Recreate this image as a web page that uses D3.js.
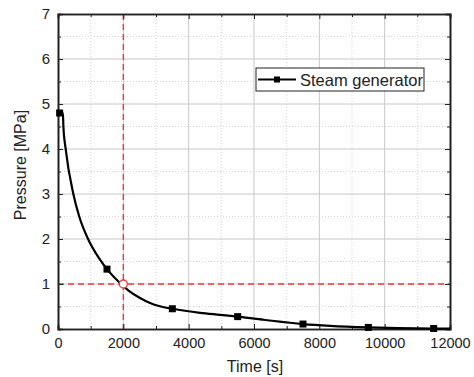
<!DOCTYPE html>
<html>
<head>
<meta charset="utf-8">
<script src="https://cdn.jsdelivr.net/npm/d3@7"></script>
<style>
  body { margin: 0; background: #fff; }
  text { font-family: "Liberation Sans", Arial, sans-serif; fill: #222; }
</style>
</head>
<body>
<div id="chart"></div>
<script>
// curve of the steam generator pressure
const curveTime = [0, 150, 165, 235, 470, 650, 920, 1250, 1500, 1930, 2150, 2510, 2800, 3120, 3500, 4350, 4960, 5500, 6300, 7500, 8330, 9500, 10400, 11500, 12000];
const curvePressure = [4.8, 4.8, 4.5, 4.0, 3.0, 2.5, 2.0, 1.58, 1.33, 1.0, 0.86, 0.69, 0.585, 0.505, 0.45, 0.36, 0.315, 0.275, 0.205, 0.11, 0.07, 0.035, 0.018, 0.01, 0.01];
// square markers
const markTime = [50, 1500, 3500, 5500, 7500, 9500, 11500];
const markPressure = [4.8, 1.33, 0.45, 0.275, 0.11, 0.035, 0.012];
// reference point
const refTime = 2000;
const refPressure = 1;
const xTicks = [0, 2000, 4000, 6000, 8000, 10000, 12000];
const yTicks = [0, 1, 2, 3, 4, 5, 6, 7];
const seriesName = "Steam generator";

const w = 474, h = 377;
const padL = 58, padR = 450, padT = 14, padB = 329;

const xScale = d3.scaleLinear().domain([0, 12000]).range([padL, padR]);
const yScale = d3.scaleLinear().domain([0, 7]).range([padB, padT]);

const svg = d3.select('#chart').append('svg')
  .attr('width', w).attr('height', h);

// minor grid (dotted)
const minorX = d3.range(1000, 12000, 2000);
const minorY = d3.range(0.5, 7, 1);
svg.append('g').selectAll('line').data(minorX).enter().append('line')
  .attr('x1', d => xScale(d)).attr('x2', d => xScale(d))
  .attr('y1', padT).attr('y2', padB)
  .attr('stroke', '#d8d8d8').attr('stroke-width', 1).attr('stroke-dasharray', '1,2');
svg.append('g').selectAll('line').data(minorY).enter().append('line')
  .attr('x1', padL).attr('x2', padR)
  .attr('y1', d => yScale(d)).attr('y2', d => yScale(d))
  .attr('stroke', '#d8d8d8').attr('stroke-width', 1).attr('stroke-dasharray', '1,2');

// major grid
svg.append('g').selectAll('line').data(xTicks.slice(1, -1)).enter().append('line')
  .attr('x1', d => xScale(d)).attr('x2', d => xScale(d))
  .attr('y1', padT).attr('y2', padB)
  .attr('stroke', '#c8c8c8').attr('stroke-width', 1);
svg.append('g').selectAll('line').data(yTicks.slice(1, -1)).enter().append('line')
  .attr('x1', padL).attr('x2', padR)
  .attr('y1', d => yScale(d)).attr('y2', d => yScale(d))
  .attr('stroke', '#c8c8c8').attr('stroke-width', 1);

// red dashed reference lines
svg.append('line')
  .attr('x1', xScale(refTime)).attr('x2', xScale(refTime))
  .attr('y1', padT).attr('y2', padB)
  .attr('stroke', '#f2383a').attr('stroke-width', 1.4).attr('stroke-dasharray', '6,4');
svg.append('line')
  .attr('x1', padL).attr('x2', padR)
  .attr('y1', yScale(refPressure)).attr('y2', yScale(refPressure))
  .attr('stroke', '#f2383a').attr('stroke-width', 1.4).attr('stroke-dasharray', '6,4');

// axes (ticks inward, all four sides)
const xAxis = d3.axisBottom(xScale).tickValues(xTicks).tickSize(-5).tickPadding(9).tickFormat(d3.format('d'));
const yAxis = d3.axisLeft(yScale).tickValues(yTicks).tickSize(-5).tickPadding(8).tickFormat(d3.format('d'));
const gx = svg.append('g').attr('transform', 'translate(0,' + padB + ')').call(xAxis);
const gy = svg.append('g').attr('transform', 'translate(' + padL + ',0)').call(yAxis);
svg.append('g').attr('transform', 'translate(0,' + padT + ')')
  .call(d3.axisTop(xScale).tickValues(xTicks).tickSize(-5).tickFormat(''));
svg.append('g').attr('transform', 'translate(' + padR + ',0)')
  .call(d3.axisRight(yScale).tickValues(yTicks).tickSize(-5).tickFormat(''));
// minor ticks
svg.append('g').attr('transform', 'translate(0,' + padB + ')')
  .call(d3.axisBottom(xScale).tickValues(minorX).tickSize(-3).tickFormat(''));
svg.append('g').attr('transform', 'translate(' + padL + ',0)')
  .call(d3.axisLeft(yScale).tickValues(minorY).tickSize(-3).tickFormat(''));
svg.append('g').attr('transform', 'translate(0,' + padT + ')')
  .call(d3.axisTop(xScale).tickValues(minorX).tickSize(-3).tickFormat(''));
svg.append('g').attr('transform', 'translate(' + padR + ',0)')
  .call(d3.axisRight(yScale).tickValues(minorY).tickSize(-3).tickFormat(''));

svg.selectAll('.domain').attr('stroke', '#222').attr('stroke-width', 1.6);
svg.selectAll('.tick line').attr('stroke', '#222');
gx.selectAll('text').style('font-size', '14.5px').attr('fill', '#222');
gy.selectAll('text').style('font-size', '15px').attr('fill', '#222');

// curve
const pts = curveTime.map((t, i) => [t, curvePressure[i]]);
svg.append('path')
  .datum(pts)
  .attr('fill', 'none').attr('stroke', '#000').attr('stroke-width', 2.2)
  .attr('d', d3.line().x(d => xScale(d[0])).y(d => yScale(d[1])).curve(d3.curveMonotoneX));

svg.append('g').selectAll('rect').data(markTime).enter().append('rect')
  .attr('x', d => xScale(d) - 3.5)
  .attr('y', (d, i) => yScale(markPressure[i]) - 3.5)
  .attr('width', 7).attr('height', 7).attr('fill', '#000');

// reference circle
svg.append('circle')
  .attr('cx', xScale(refTime)).attr('cy', yScale(refPressure)).attr('r', 4)
  .attr('fill', '#fff').attr('stroke', '#f2383a').attr('stroke-width', 1.3);

// legend
const lg = svg.append('g').attr('transform', 'translate(256,68)');
lg.append('rect').attr('width', 168).attr('height', 23)
  .attr('fill', '#fff').attr('stroke', '#222').attr('stroke-width', 1);
lg.append('line').attr('x1', 2).attr('x2', 40).attr('y1', 11.5).attr('y2', 11.5)
  .attr('stroke', '#000').attr('stroke-width', 2.2);
lg.append('rect').attr('x', 18).attr('y', 8.5).attr('width', 6).attr('height', 6).attr('fill', '#000');
lg.append('text').attr('x', 44).attr('y', 17.5).style('font-size', '16.5px').text(seriesName);

// axis titles
svg.append('text')
  .attr('x', 255).attr('y', 372)
  .attr('text-anchor', 'middle').style('font-size', '16px')
  .text('Time [s]');
svg.append('text')
  .attr('transform', 'translate(26,' + 165 + ') rotate(-90)')
  .attr('text-anchor', 'middle').style('font-size', '16px')
  .text('Pressure [MPa]');
</script>
</body>
</html>
